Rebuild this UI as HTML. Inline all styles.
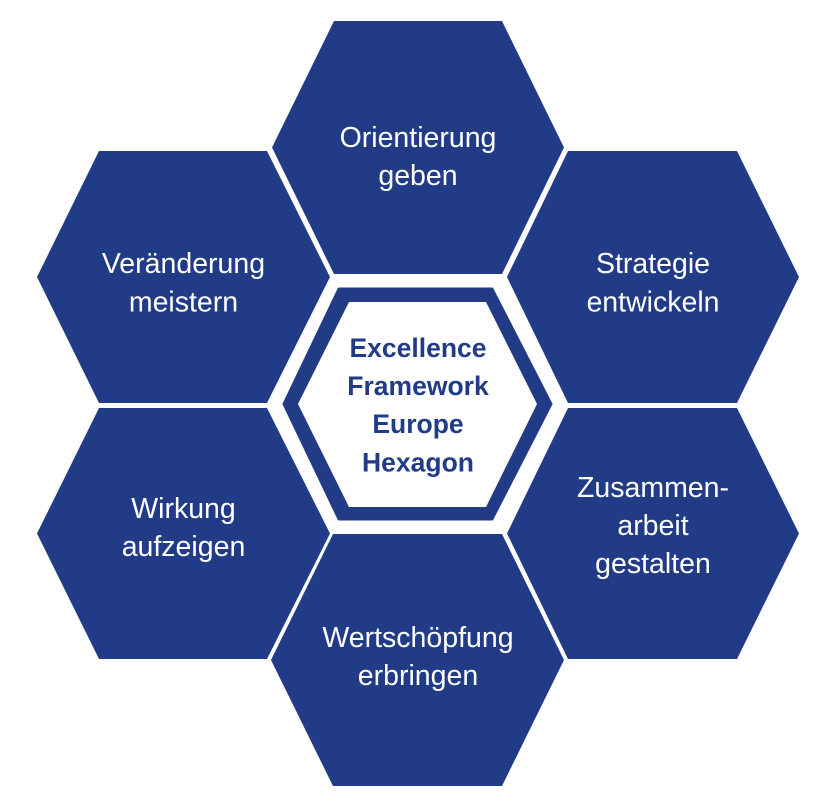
<!DOCTYPE html>
<html>
<head>
<meta charset="utf-8">
<style>
  html, body { margin:0; padding:0; background:#ffffff; }
  body { width:834px; height:812px; overflow:hidden; }
  svg { display:block; }
  .t { font-family:"Liberation Sans", Arial, sans-serif; font-size:28.5px; fill:#ffffff; text-anchor:middle; }
  .c { font-family:"Liberation Sans", Arial, sans-serif; font-size:26.5px; font-weight:bold; fill:#213B87; text-anchor:middle; }
</style>
</head>
<body>
<svg width="834" height="812" viewBox="0 0 834 812" xmlns="http://www.w3.org/2000/svg">
  <rect x="0" y="0" width="834" height="812" fill="#ffffff"/>
  <g fill="#213B87">
    <!-- top -->
    <polygon points="334,21 502,21 564,147.5 502,274 334,274 272,147.5"/>
    <!-- left upper -->
    <polygon points="99,151 267,151 330,277 267,403 99,403 37,277"/>
    <!-- right upper -->
    <polygon points="568,151 737,151 799,277 737,403 568,403 507,277"/>
    <!-- left lower -->
    <polygon points="99,408 267,408 330,533.5 267,659 99,659 37,533.5"/>
    <!-- right lower -->
    <polygon points="568,408 737,408 799,533.5 737,659 568,659 507,533.5"/>
    <!-- bottom -->
    <polygon points="333,534 502,534 564,660 502,786 333,786 271,660"/>
    <!-- center outer ring -->
    <polygon points="339,289 492,289 551,404 492,519 339,519 284,404" stroke="#213B87" stroke-width="3" stroke-linejoin="round"/>
  </g>
  <polygon points="349,302 486,302 537,404 486,507 349,507 298,404" fill="#ffffff"/>

  <text class="t" x="418" y="147">Orientierung</text>
  <text class="t" x="418" y="185">geben</text>

  <text class="t" x="183.5" y="273">Veränderung</text>
  <text class="t" x="183.5" y="311.5">meistern</text>

  <text class="t" x="653" y="273">Strategie</text>
  <text class="t" x="653" y="311.5">entwickeln</text>

  <text class="t" x="183.5" y="518">Wirkung</text>
  <text class="t" x="183.5" y="556">aufzeigen</text>

  <text class="t" x="653" y="497">Zusammen-</text>
  <text class="t" x="653" y="535">arbeit</text>
  <text class="t" x="653" y="573">gestalten</text>

  <text class="t" x="418" y="647">Wertschöpfung</text>
  <text class="t" x="418" y="685">erbringen</text>

  <text class="c" x="418" y="357">Excellence</text>
  <text class="c" x="418" y="395">Framework</text>
  <text class="c" x="418" y="433">Europe</text>
  <text class="c" x="418" y="471.5">Hexagon</text>
</svg>
</body>
</html>
